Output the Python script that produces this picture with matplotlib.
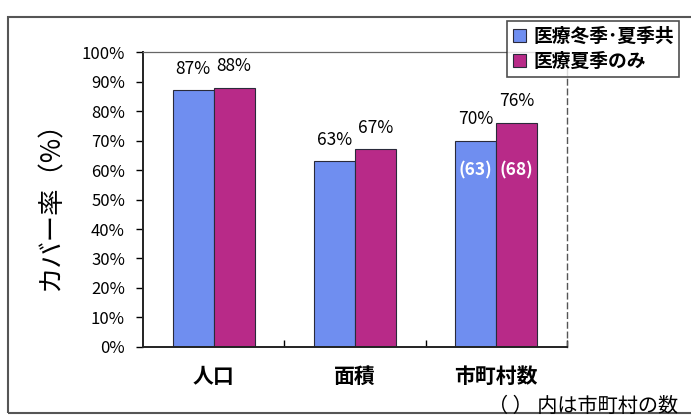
import matplotlib
matplotlib.use("Agg")
import matplotlib.pyplot as plt
import numpy as np
from matplotlib.patches import Rectangle

plt.rcParams['font.family'] = ['Noto Sans CJK JP', 'DejaVu Sans']

categories = ['人口', '面積', '市町村数']
series_names = ['医療冬季･夏季共', '医療夏季のみ']
winter_summer = [87, 63, 70]
summer_only = [88, 67, 76]
municipality_counts = {2: (63, 68)}
y_ticks = [0, 10, 20, 30, 40, 50, 60, 70, 80, 90, 100]

blue = '#6f8ef0'
magenta = '#b82a88'

fig = plt.figure(figsize=(6.91, 4.17), dpi=100)
ax = fig.add_axes([0.207, 0.168, 0.6135, 0.707])

x = np.arange(len(categories))
w = 0.29
b1 = ax.bar(x - w / 2, winter_summer, w, color=blue, edgecolor='#2a2a3a', linewidth=0.8,
            label=series_names[0])
b2 = ax.bar(x + w / 2, summer_only, w, color=magenta, edgecolor='#2a2a3a', linewidth=0.8,
            label=series_names[1])

for bars, vals in ((b1, winter_summer), (b2, summer_only)):
    for r, v in zip(bars, vals):
        ax.annotate(f'{v}%', (r.get_x() + r.get_width() / 2, v), xytext=(0, 9),
                    textcoords='offset points', ha='center', va='bottom', fontsize=12.5)

for idx, (c1, c2) in municipality_counts.items():
    ax.text(x[idx] - w / 2, 60, f'({c1})', ha='center', va='center', color='white',
            fontsize=12.5, fontweight='bold')
    ax.text(x[idx] + w / 2, 60, f'({c2})', ha='center', va='center', color='white',
            fontsize=12.5, fontweight='bold')

ax.set_xlim(-0.5, 2.5)
ax.set_ylim(0, 100)
ax.set_yticks(y_ticks)
ax.set_yticklabels([f'{t}%' for t in y_ticks], fontsize=12)
ax.tick_params(axis='y', direction='out', length=5, width=1, pad=8)
ax.set_xticks(x)
ax.set_xticklabels(categories, fontsize=15, fontweight='bold')
ax.tick_params(axis='x', length=0, pad=14)
ax.set_xticks([0.5, 1.5, 2.5], minor=True)
ax.tick_params(axis='x', which='minor', direction='in', length=5, width=1)

ax.set_ylabel('カバー率（%）', fontsize=19, labelpad=12)

for s in ('left', 'bottom'):
    ax.spines[s].set_linewidth(1.4)
    ax.spines[s].set_color('#222222')
ax.spines['top'].set_color('#666666')
ax.spines['top'].set_linewidth(0.9)
ax.spines['right'].set_color('#555555')
ax.spines['right'].set_linestyle((0, (4, 3)))
ax.spines['right'].set_linewidth(1.0)

leg = fig.legend(handles=[b1, b2], loc='upper left', bbox_to_anchor=(507 / 691, 1 - 21 / 417),
                 frameon=True, fancybox=False, prop={'size': 13.5, 'weight': 'bold'},
                 handlelength=0.7, handleheight=0.7, handletextpad=0.4, borderpad=0.3,
                 labelspacing=0.35, borderaxespad=0)
leg.get_frame().set_edgecolor('#222222')
leg.get_frame().set_linewidth(1.2)

fig.text(0.982, 1 - 406 / 417, '（ ） 内は市町村の数', ha='right', va='center', fontsize=14.5)

fig.patches.append(Rectangle((8 / 691, 4 / 417), 1.2, 1 - 21 / 417, transform=fig.transFigure,
                             fill=False, edgecolor='#555555', linewidth=1.5))

fig.savefig('out.png', dpi=100)
